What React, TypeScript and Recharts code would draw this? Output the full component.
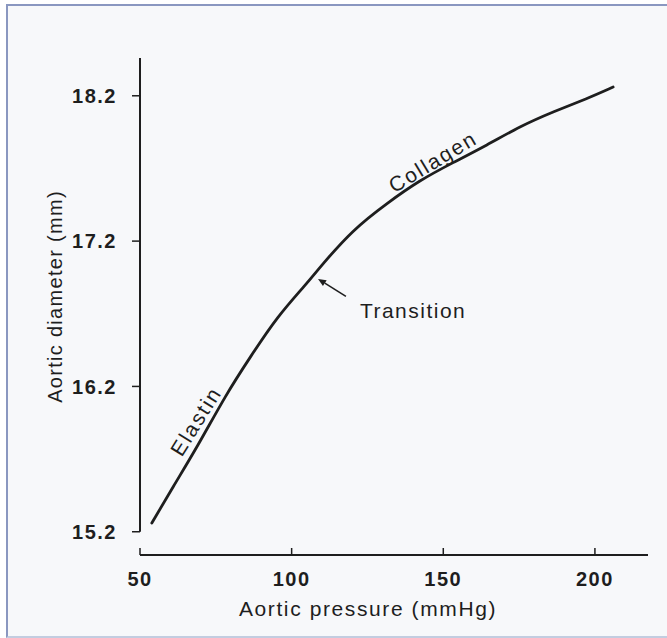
import React from 'react';
import {
  LineChart,
  Line,
  XAxis,
  YAxis,
  ReferenceLine,
  ReferenceDot,
  Label,
} from 'recharts';

// aortic pressure (mmHg) and the matching diameter (mm)
const pressure = [53.9, 60.9, 68.8, 78.5, 86.3, 95.2, 105.1, 109.3, 120.2, 131.4, 142.3, 153.2, 164.4, 175.3, 186.2, 197.4, 206.0];
const diameter = [15.26, 15.51, 15.78, 16.15, 16.4, 16.68, 16.91, 17.02, 17.28, 17.46, 17.62, 17.74, 17.86, 17.99, 18.09, 18.18, 18.26];

const xTicks = [50, 100, 150, 200];
const yTicks = [15.2, 16.2, 17.2, 18.2];
const xDomain: [number, number] = [50, 217.5];
const yDomain: [number, number] = [15.04, 18.46];

const curveLabels = [
  { text: 'Elastin', pressure: 71.6, diameter: 15.92, angle: -58 },
  { text: 'Collagen', pressure: 148.5, diameter: 17.68, angle: -31 },
];
const transitionLabel = { text: 'Transition', pressure: 122.5, diameter: 16.67 };
const transitionArrow = [
  { x: 117.9, y: 16.82 },
  { x: 108.7, y: 16.94 },
];

const FONT = '"Liberation Sans", Arial, Helvetica, sans-serif';
const INK = '#1e1e1e';

const chartData = pressure.map((p, i) => ({ pressure: p, diameter: diameter[i] }));

const XTitle: React.FC<any> = ({ viewBox }) => (
  <text
    x={viewBox.x + viewBox.width / 2 - 26}
    y={viewBox.y + 61}
    textAnchor="middle"
    fontFamily={FONT}
    fontSize={21}
    letterSpacing={1.6}
    fill={INK}
  >
    Aortic pressure (mmHg)
  </text>
);

const YTitle: React.FC<any> = ({ viewBox }) => {
  const cx = 62;
  const cy = viewBox.y + viewBox.height / 2 - 10;
  return (
    <text
      x={cx}
      y={cy}
      transform={`rotate(-90 ${cx} ${cy})`}
      textAnchor="middle"
      fontFamily={FONT}
      fontSize={20}
      letterSpacing={1.3}
      fill={INK}
    >
      Aortic diameter (mm)
    </text>
  );
};

const curveText = (text: string, angle: number) => (props: any) => (
  <text
    x={props.cx}
    y={props.cy}
    dy={-4}
    transform={`rotate(${angle} ${props.cx} ${props.cy})`}
    textAnchor="middle"
    fontFamily={FONT}
    fontSize={21}
    letterSpacing={2}
    fill={INK}
  >
    {text}
  </text>
);

const plainText = (text: string) => (props: any) => (
  <text
    x={props.cx}
    y={props.cy}
    textAnchor="start"
    fontFamily={FONT}
    fontSize={21}
    letterSpacing={1.5}
    fill={INK}
  >
    {text}
  </text>
);

const Arrow: React.FC<any> = ({ x1, y1, x2, y2 }) => {
  const len = Math.hypot(x2 - x1, y2 - y1) || 1;
  const ux = (x2 - x1) / len;
  const uy = (y2 - y1) / len;
  const head = 8;
  const bx = x2 - ux * head;
  const by = y2 - uy * head;
  return (
    <g>
      <line x1={x1} y1={y1} x2={bx} y2={by} stroke={INK} strokeWidth={1.6} />
      <polygon
        points={`${x2},${y2} ${bx - uy * 3.5},${by + ux * 3.5} ${bx + uy * 3.5},${by - ux * 3.5}`}
        fill={INK}
      />
    </g>
  );
};

const tickStyle = { fontFamily: FONT, fontSize: 20, fontWeight: 700, fill: INK, letterSpacing: 1.5 };

export default function App() {
  return (
    <div style={{ position: 'absolute', left: 0, top: 0, width: 667, height: 638, background: '#ffffff', overflow: 'hidden' }}>
      <div
        style={{
          position: 'absolute',
          left: 6,
          top: 4,
          width: 670,
          height: 630,
          background: '#f7f8fa',
          borderLeft: '2px solid #8a97c0',
          borderTop: '2px solid #8a97c0',
          borderBottom: '2px solid #c3cde0',
        }}
      />
      <div style={{ position: 'absolute', left: 0, top: 0 }}>
        <LineChart
          width={667}
          height={638}
          data={chartData}
          margin={{ top: 58, right: 19, bottom: 0, left: 0 }}
        >
          <XAxis
            dataKey="pressure"
            type="number"
            domain={xDomain}
            ticks={xTicks}
            allowDataOverflow
            height={83}
            axisLine={{ stroke: INK, strokeWidth: 2 }}
            tickLine={{ stroke: INK, strokeWidth: 1.5 }}
            tickSize={-7}
            tickMargin={24}
            tick={tickStyle}
          >
            <Label content={<XTitle />} />
          </XAxis>
          <YAxis
            type="number"
            domain={yDomain}
            ticks={yTicks}
            allowDataOverflow
            width={140}
            axisLine={false}
            tickLine={{ stroke: INK, strokeWidth: 1.5 }}
            tickSize={8}
            tickMargin={15}
            tick={tickStyle}
            tickFormatter={(v: number) => v.toFixed(1)}
          >
            <Label content={<YTitle />} />
          </YAxis>
          <ReferenceLine
            segment={[
              { x: xDomain[0], y: yTicks[0] },
              { x: xDomain[0], y: yDomain[1] },
            ]}
            stroke={INK}
            strokeWidth={2}
            ifOverflow="visible"
          />
          <Line
            type="basis"
            dataKey="diameter"
            stroke={INK}
            strokeWidth={2.8}
            strokeLinecap="round"
            dot={false}
            activeDot={false}
            isAnimationActive={false}
          />
          {curveLabels.map((c) => (
            <ReferenceDot
              key={c.text}
              x={c.pressure}
              y={c.diameter}
              r={0}
              ifOverflow="visible"
              shape={curveText(c.text, c.angle)}
            />
          ))}
          <ReferenceDot
            x={transitionLabel.pressure}
            y={transitionLabel.diameter}
            r={0}
            ifOverflow="visible"
            shape={plainText(transitionLabel.text)}
          />
          <ReferenceLine
            segment={transitionArrow}
            ifOverflow="visible"
            shape={(p: any) => <Arrow {...p} />}
          />
        </LineChart>
      </div>
    </div>
  );
}
